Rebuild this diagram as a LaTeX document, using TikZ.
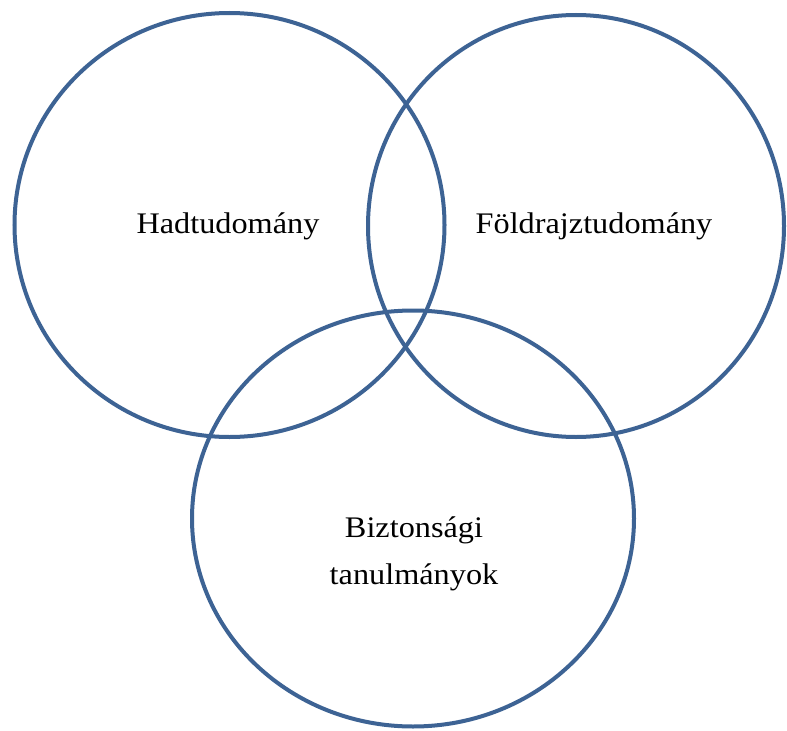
\documentclass[tikz,border=0pt]{standalone}
\usepackage{fontspec}
\setmainfont{Liberation Serif}
\definecolor{ring}{HTML}{3D6394}
\begin{document}
\begin{tikzpicture}[x=1bp,y=-1bp,
  ring/.style={draw=ring,line width=4bp},
  lbl/.style={font=\fontsize{30}{47}\selectfont,align=center,text=black,xscale=1.08}]
\useasboundingbox (0,0) rectangle (787,731);
\fill[white] (0,0) rectangle (787,731);
\draw[ring] (229.5,225) ellipse[x radius=215,y radius=212];
\draw[ring] (576,226) ellipse[x radius=208,y radius=211];
\draw[ring] (413,518.5) ellipse[x radius=221,y radius=208];
\node[lbl] (h) at (228,226) {Hadtudomány};
\node[lbl] (f) at (594,226) {Földrajztudomány};
\node[lbl] (b) at (414,554) {Biztonsági\\tanulmányok};
\end{tikzpicture}
\end{document}
